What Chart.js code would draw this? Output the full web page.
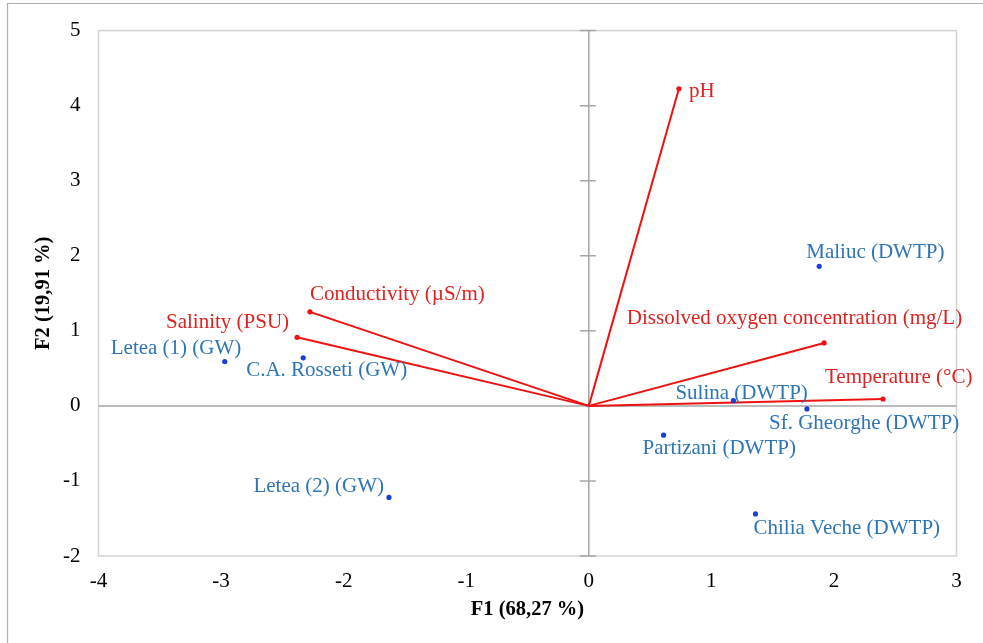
<!DOCTYPE html>
<html>
<head>
<meta charset="utf-8">
<script src="https://cdn.jsdelivr.net/npm/chart.js@4.4.0/dist/chart.umd.min.js"></script>
<style>
  html,body{margin:0;padding:0;background:#fff;}
  #wrap{width:983px;height:643px;position:relative;}
</style>
</head>
<body>
<div id="wrap"><canvas id="c" width="983" height="643"></canvas></div>
<script>
// ---- data ----
const obsNames = ["Letea (1) (GW)", "Letea (2) (GW)", "C.A. Rosseti (GW)", "Maliuc (DWTP)", "Sulina (DWTP)", "Sf. Gheorghe (DWTP)", "Partizani (DWTP)", "Chilia Veche (DWTP)"];
const obsF1 = [-2.97, -1.63, -2.33, 1.88, 1.18, 1.78, 0.61, 1.36];
const obsF2 = [0.59, -1.22, 0.64, 1.86, 0.07, -0.04, -0.39, -1.44];

const varNames = ["pH", "Conductivity (µS/m)", "Salinity (PSU)", "Dissolved oxygen concentration (mg/L)", "Temperature (°C)"];
const varF1 = [0.735, -2.275, -2.38, 1.92, 2.40];
const varF2 = [4.225, 1.253, 0.914, 0.839, 0.092];

const xTicks = [-4, -3, -2, -1, 0, 1, 2, 3];
const yTicks = [-2, -1, 0, 1, 2, 3, 4, 5];
const xTitle = "F1 (68,27 %)";
const yTitle = "F2 (19,91 %)";

// ---- label placement (style) ----
const obsLabelPos = [
  {dx: -114, dy: -13, align: 'left'},
  {dx: -5, dy: -11, align: 'right'},
  {dx: -57, dy: 13, align: 'left'},
  {dx: -13, dy: -14, align: 'left'},
  {dx: -58, dy: -7, align: 'left'},
  {dx: -38, dy: 15, align: 'left'},
  {dx: -21, dy: 13, align: 'left'},
  {dx: -2, dy: 15, align: 'left'}
];
const varLabelPos = [
  {dx: 10, dy: 3, align: 'left'},
  {dx: 0, dy: -17, align: 'left'},
  {dx: -8, dy: -15, align: 'right'},
  {dx: 138, dy: -24, align: 'right'},
  {dx: -58, dy: -21, align: 'left'}
];

const FONT = "'Liberation Serif', 'Times New Roman', serif";
const LABEL_SIZE = 21;
const BLUE_TXT = '#2e75b6';
const BLUE_PT = '#1a3fd6';
const RED = '#ee1111';
const RED_TXT = '#dd2222';

const datasets = [];
datasets.push({
  label: 'obs',
  data: obsF1.map((x, i) => ({x: x, y: obsF2[i]})),
  backgroundColor: BLUE_PT,
  borderColor: BLUE_PT,
  pointRadius: 2.6,
  pointBorderWidth: 0,
  showLine: false
});
varF1.forEach((x, i) => {
  datasets.push({
    label: 'var' + i,
    data: [{x: 0, y: 0}, {x: x, y: varF2[i]}],
    borderColor: RED,
    backgroundColor: RED,
    borderWidth: 2,
    pointRadius: [0, 2.6],
    pointBorderWidth: 0,
    showLine: true,
    fill: false
  });
});

const framePlugin = {
  id: 'frame',
  beforeDraw(chart) {
    const ctx = chart.ctx;
    ctx.save();
    ctx.fillStyle = '#fff';
    ctx.fillRect(0, 0, chart.width, chart.height);
    ctx.strokeStyle = '#b0b0b0';
    ctx.lineWidth = 1.2;
    ctx.beginPath();
    ctx.moveTo(7.5, 643); ctx.lineTo(7.5, 3.5); ctx.lineTo(983, 3.5);
    ctx.stroke();
    ctx.restore();
  },
  beforeDatasetsDraw(chart) {
    const {ctx, chartArea: a, scales: {x, y}} = chart;
    ctx.save();
    ctx.strokeStyle = '#d4d4d4';
    ctx.lineWidth = 1.5;
    ctx.strokeRect(a.left, a.top, a.right - a.left, a.bottom - a.top);
    const x0 = x.getPixelForValue(0), y0 = y.getPixelForValue(0);
    ctx.strokeStyle = '#a6a6a6';
    ctx.lineWidth = 1.5;
    ctx.beginPath();
    ctx.moveTo(a.left, y0); ctx.lineTo(a.right, y0);
    ctx.moveTo(x0, a.top); ctx.lineTo(x0, a.bottom);
    yTicks.forEach(v => {
      const p = y.getPixelForValue(v);
      ctx.moveTo(x0 - 9, p); ctx.lineTo(x0 + 7, p);
    });
    ctx.stroke();
    ctx.restore();
  },
  afterDatasetsDraw(chart) {
    const ctx = chart.ctx;
    ctx.save();
    ctx.font = LABEL_SIZE + 'px ' + FONT;
    ctx.textBaseline = 'middle';
    const m0 = chart.getDatasetMeta(0);
    m0.data.forEach((pt, i) => {
      const s = obsLabelPos[i];
      ctx.fillStyle = BLUE_TXT;
      ctx.textAlign = s.align;
      ctx.fillText(obsNames[i], pt.x + s.dx, pt.y + s.dy);
    });
    varNames.forEach((n, i) => {
      const pt = chart.getDatasetMeta(i + 1).data[1];
      const s = varLabelPos[i];
      ctx.fillStyle = RED_TXT;
      ctx.textAlign = s.align;
      ctx.fillText(n, pt.x + s.dx, pt.y + s.dy);
    });
    ctx.restore();
  }
};

new Chart(document.getElementById('c'), {
  type: 'scatter',
  data: {datasets: datasets},
  options: {
    responsive: false,
    animation: false,
    events: [],
    layout: {padding: {left: 0, top: 25, right: 26.5, bottom: 0}},
    plugins: {legend: {display: false}, tooltip: {enabled: false}},
    scales: {
      x: {
        type: 'linear', min: xTicks[0], max: xTicks[xTicks.length - 1],
        afterBuildTicks: s => { s.ticks = xTicks.map(v => ({value: v})); },
        afterFit: s => { s.height = 87; },
        grid: {display: false, drawTicks: false},
        border: {display: false},
        ticks: {font: {family: FONT, size: 21}, color: '#000', padding: 13, maxRotation: 0, autoSkip: false},
        title: {display: true, text: xTitle, font: {family: FONT, size: 20.5, weight: 'bold'}, color: '#000', padding: {top: 0, bottom: 21}}
      },
      y: {
        type: 'linear', min: yTicks[0], max: yTicks[yTicks.length - 1],
        afterBuildTicks: s => { s.ticks = yTicks.map(v => ({value: v})); },
        afterFit: s => { s.width = 98.5; },
        grid: {display: false, drawTicks: false},
        border: {display: false},
        ticks: {font: {family: FONT, size: 21}, color: '#000', padding: 18, autoSkip: false},
        title: {display: true, text: yTitle, font: {family: FONT, size: 20.5, weight: 'bold'}, color: '#000', padding: {top: 31, bottom: 0}}
      }
    }
  },
  plugins: [framePlugin]
});
</script>
</body>
</html>
